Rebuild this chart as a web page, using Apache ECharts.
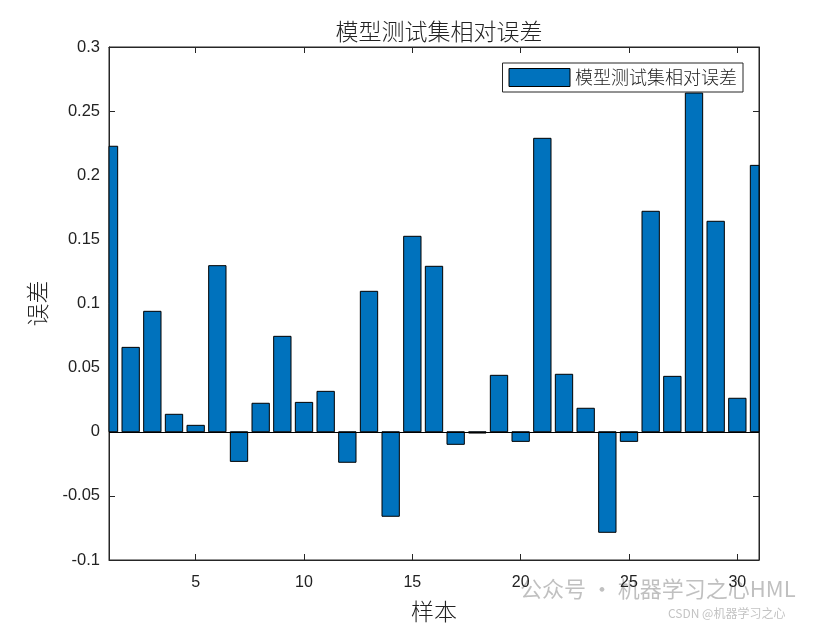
<!DOCTYPE html>
<html>
<head>
<meta charset="utf-8">
<title>模型测试集相对误差</title>
<script src="https://cdn.jsdelivr.net/npm/echarts@6/dist/echarts.min.js"></script>
<style>
  html, body { margin: 0; padding: 0; background: #fff; }
  #chart { width: 840px; height: 630px; }
</style>
</head>
<body>
<div id="chart"></div>
<script>
  // 样本编号
  const samples = [1, 2, 3, 4, 5, 6, 7, 8, 9, 10, 11, 12, 13, 14, 15, 16,
    17, 18, 19, 20, 21, 22, 23, 24, 25, 26, 27, 28, 29, 30, 31];
  // 相对误差
  const errors = [0.2226, 0.0658, 0.0939, 0.0136, 0.0050, 0.1295, -0.0231, 0.0222,
    0.0744, 0.0229, 0.0315, -0.0238, 0.1095, -0.0659, 0.1524, 0.1290,
    -0.0098, -0.0010, 0.0440, -0.0075, 0.2288, 0.0448, 0.0183, -0.0784,
    -0.0075, 0.1719, 0.0432, 0.2641, 0.1641, 0.0261, 0.2077];
  // 刻度
  const xTicks = [5, 10, 15, 20, 25, 30];
  const yTickLabels = ['-0.1', '-0.05', '0', '0.05', '0.1', '0.15', '0.2', '0.25', '0.3'];

  const seriesName = '模型测试集相对误差';
  const cjk = '"Noto Sans CJK SC", sans-serif';
  const latin = '"Liberation Sans", Arial, sans-serif';
  const axisColor = '#262626';
  const barColor = '#0072BD';

  function yLabel(v) {
    const idx = Math.round((v + 0.1) / 0.05);
    return yTickLabels[idx] !== undefined ? yTickLabels[idx] : '';
  }

  // 柱子：宽度 0.8 个样本，超出坐标区的部分裁掉
  function renderBar(params, api) {
    const x = api.value(0);
    const y = api.value(1);
    const p0 = api.coord([x - 0.4, 0]);
    const p1 = api.coord([x + 0.4, y]);
    const rect = echarts.graphic.clipRectByRect({
      x: p0[0],
      y: Math.min(p0[1], p1[1]),
      width: p1[0] - p0[0],
      height: Math.abs(p1[1] - p0[1])
    }, {
      x: params.coordSys.x,
      y: params.coordSys.y,
      width: params.coordSys.width,
      height: params.coordSys.height
    });
    if (!rect) return null;
    return {
      type: 'rect',
      shape: rect,
      style: { fill: barColor, stroke: '#000', lineWidth: 1 }
    };
  }

  const chart = echarts.init(document.getElementById('chart'));
  chart.setOption({
    animation: false,
    backgroundColor: '#fff',
    title: {
      text: '模型测试集相对误差',
      left: 434,
      textAlign: 'center',
      top: 15,
      textStyle: { fontFamily: cjk, fontSize: 23, fontWeight: 300, color: '#222' }
    },
    grid: {
      left: 109,
      right: 81,
      top: 47,
      bottom: 70,
      show: true,
      borderColor: axisColor,
      borderWidth: 1,
      backgroundColor: '#fff'
    },
    legend: {
      data: [seriesName],
      right: 97,
      top: 63,
      orient: 'vertical',
      icon: 'rect',
      itemWidth: 61,
      itemHeight: 18,
      itemStyle: { color: barColor, borderColor: '#000', borderWidth: 1 },
      padding: [5, 6, 5, 6],
      borderColor: axisColor,
      borderWidth: 1,
      backgroundColor: '#fff',
      textStyle: { fontFamily: cjk, fontSize: 18, fontWeight: 300, color: '#222' }
    },
    xAxis: [
      {
        type: 'value',
        min: 1,
        max: 31,
        name: '样本',
        nameLocation: 'middle',
        nameGap: 40,
        nameTextStyle: { fontFamily: cjk, fontSize: 23, fontWeight: 300, color: '#222' },
        splitLine: { show: false },
        axisLine: { show: true, onZero: false, lineStyle: { color: axisColor } },
        axisTick: { show: true, inside: true, length: 6, customValues: xTicks, lineStyle: { color: axisColor } },
        axisLabel: { customValues: xTicks, margin: 15, fontFamily: latin, fontSize: 16, color: '#222' }
      },
      {
        type: 'value',
        position: 'top',
        min: 1,
        max: 31,
        splitLine: { show: false },
        axisLine: { show: true, onZero: false, lineStyle: { color: axisColor } },
        axisTick: { show: true, inside: true, length: 6, customValues: xTicks, lineStyle: { color: axisColor } },
        axisLabel: { show: false }
      }
    ],
    yAxis: [
      {
        type: 'value',
        min: -0.1,
        max: 0.3,
        interval: 0.05,
        name: '误差',
        nameLocation: 'middle',
        nameRotate: 90,
        nameGap: 60,
        nameTextStyle: { fontFamily: cjk, fontSize: 23, fontWeight: 300, color: '#222' },
        splitLine: { show: false },
        axisLine: { show: true, onZero: false, lineStyle: { color: axisColor } },
        axisTick: { show: true, inside: true, length: 6, lineStyle: { color: axisColor } },
        axisLabel: { margin: 9, fontFamily: latin, fontSize: 16.5, color: '#222', formatter: yLabel }
      },
      {
        type: 'value',
        position: 'right',
        min: -0.1,
        max: 0.3,
        interval: 0.05,
        splitLine: { show: false },
        axisLine: { show: true, onZero: false, lineStyle: { color: axisColor } },
        axisTick: { show: true, inside: true, length: 6, lineStyle: { color: axisColor } },
        axisLabel: { show: false }
      }
    ],
    series: [
      {
        name: seriesName,
        type: 'custom',
        xAxisIndex: 0,
        yAxisIndex: 0,
        renderItem: renderBar,
        encode: { x: 0, y: 1 },
        data: samples.map((s, i) => [s, errors[i]]),
        itemStyle: { color: barColor, borderColor: '#000', borderWidth: 1 },
        z: 2
      },
      {
        // 零基线
        name: 'baseline',
        type: 'line',
        data: [],
        markLine: {
          silent: true,
          symbol: 'none',
          label: { show: false },
          lineStyle: { color: '#000', width: 1, type: 'solid' },
          data: [{ yAxis: 0 }]
        },
        z: 3
      }
    ],
    graphic: [
      {
        type: 'text',
        left: 520,
        top: 578,
        style: { text: '公众号 · 机器学习之心HML', fontFamily: cjk, fontSize: 22, fill: 'rgba(150,150,150,0.6)' }
      },
      {
        type: 'text',
        left: 668,
        top: 607,
        style: { text: 'CSDN @机器学习之心', fontFamily: cjk, fontSize: 12, fill: 'rgba(170,170,170,0.7)' }
      }
    ]
  });
</script>
</body>
</html>
